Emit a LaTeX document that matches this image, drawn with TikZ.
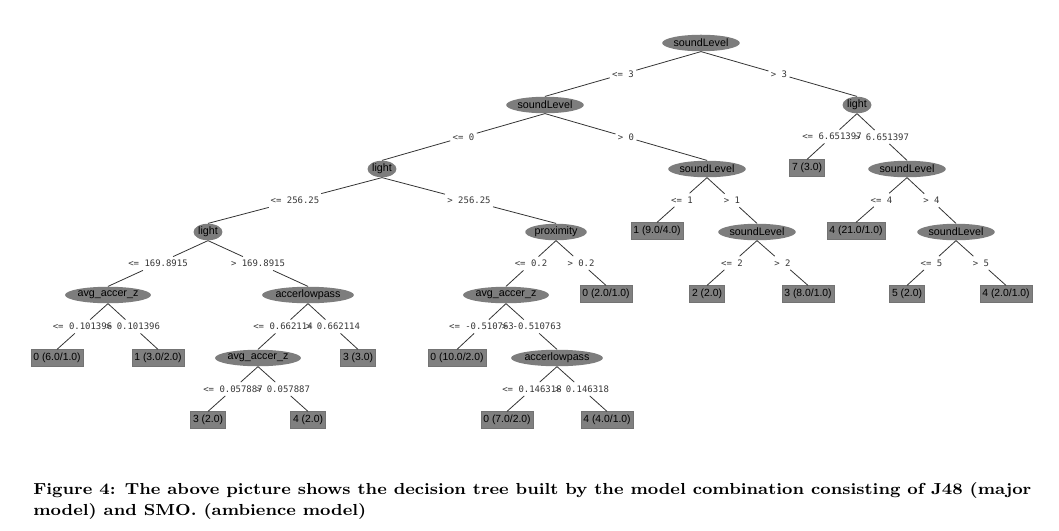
\documentclass[tikz,border=0pt]{standalone}
\usepackage{fontspec}
\usetikzlibrary{shapes.geometric}
\newfontfamily\nodefont{Liberation Sans}
\newfontfamily\labfont{DejaVu Sans Mono}
\newlength\capw
\newcommand\capfont{\fontsize{9.1}{11}\selectfont\bfseries}
\newcommand\capone{Figure 4: The above picture shows the decision tree built by the model combination consisting of J48 (major}
\newcommand\captwo{model) and SMO. (ambience model)}
\AtBeginDocument{\settowidth{\capw}{\capfont\capone}}
\newcommand\tedge[4]{%
  \path (#1.south) -- (#2.north) node[lab, midway] (#3) {#4};
  \draw[edge] (#1.south) -- (#3) -- (#2.north);
}
\definecolor{nodegray}{RGB}{125,125,125}
\definecolor{leafgray}{RGB}{128,128,128}
\tikzset{
  dec/.style={ellipse, fill=nodegray, inner sep=0pt, minimum height=9.4pt, font=\nodefont\fontsize{6.1}{7}\selectfont},
  wsl/.style={minimum width=42pt},
  wl/.style={minimum width=16.5pt},
  wp/.style={minimum width=35pt},
  wa/.style={minimum width=45pt},
  wc/.style={minimum width=50pt},
  leaf/.style={rectangle, fill=leafgray, draw=black!55, line width=0.4pt, inner xsep=1.4pt, inner ysep=0pt, minimum height=9.4pt, font=\nodefont\fontsize{5.9}{7}\selectfont},
  lab/.style={inner xsep=1.2pt, inner ysep=1.8pt, font=\labfont\fontsize{5.1}{6}\selectfont, text=black!78},
  edge/.style={draw=black!80, line width=0.45pt}
}
\begin{document}
\begin{tikzpicture}[x=0.02cm, y=-0.02cm]
\useasboundingbox[fill=white] (0,0) rectangle (1059,531);
% decision nodes and leaves
\node[dec,wsl] (n0) at (701,43) {soundLevel};
\node[dec,wsl] (n1) at (545,105) {soundLevel};
\node[dec,wl] (n2) at (857,105) {light};
\node[dec,wl] (n3) at (382,169) {light};
\node[dec,wsl] (n4) at (707,169) {soundLevel};
\node[leaf] (n5) at (807,168) {7 (3.0)};
\node[dec,wsl] (n6) at (907,169) {soundLevel};
\node[dec,wl] (n7) at (208,232) {light};
\node[dec,wp] (n8) at (556,232) {proximity};
\node[leaf] (n9) at (657,231) {1 (9.0/4.0)};
\node[dec,wsl] (n10) at (757,232) {soundLevel};
\node[leaf] (n11) at (856,231) {4 (21.0/1.0)};
\node[dec,wsl] (n12) at (956,232) {soundLevel};
\node[dec,wa] (n13) at (108,295) {avg\_accer\_z};
\node[dec,wc] (n14) at (308,295) {accerlowpass};
\node[dec,wa] (n15) at (506,295) {avg\_accer\_z};
\node[leaf] (n16) at (606,294) {0 (2.0/1.0)};
\node[leaf] (n17) at (707,294) {2 (2.0)};
\node[leaf] (n18) at (808,294) {3 (8.0/1.0)};
\node[leaf] (n19) at (907,294) {5 (2.0)};
\node[leaf] (n20) at (1006,294) {4 (2.0/1.0)};
\node[leaf] (n21) at (57,358) {0 (6.0/1.0)};
\node[leaf] (n22) at (158,358) {1 (3.0/2.0)};
\node[dec,wa] (n23) at (258,358) {avg\_accer\_z};
\node[leaf] (n24) at (358,358) {3 (3.0)};
\node[leaf] (n25) at (457,358) {0 (10.0/2.0)};
\node[dec,wc] (n26) at (557,358) {accerlowpass};
\node[leaf] (n27) at (208,420) {3 (2.0)};
\node[leaf] (n28) at (308,420) {4 (2.0)};
\node[leaf] (n29) at (507,420) {0 (7.0/2.0)};
\node[leaf] (n30) at (607,420) {4 (4.0/1.0)};
% edges with labels
\tedge{n0}{n1}{l1}{<= 3}
\tedge{n0}{n2}{l2}{> 3}
\tedge{n1}{n3}{l3}{<= 0}
\tedge{n1}{n4}{l4}{> 0}
\tedge{n2}{n5}{l5}{<= 6.651397}
\tedge{n2}{n6}{l6}{> 6.651397}
\tedge{n3}{n7}{l7}{<= 256.25}
\tedge{n3}{n8}{l8}{> 256.25}
\tedge{n4}{n9}{l9}{<= 1}
\tedge{n4}{n10}{l10}{> 1}
\tedge{n6}{n11}{l11}{<= 4}
\tedge{n6}{n12}{l12}{> 4}
\tedge{n7}{n13}{l13}{<= 169.8915}
\tedge{n7}{n14}{l14}{> 169.8915}
\tedge{n8}{n15}{l15}{<= 0.2}
\tedge{n8}{n16}{l16}{> 0.2}
\tedge{n10}{n17}{l17}{<= 2}
\tedge{n10}{n18}{l18}{> 2}
\tedge{n12}{n19}{l19}{<= 5}
\tedge{n12}{n20}{l20}{> 5}
\tedge{n13}{n21}{l21}{<= 0.101396}
\tedge{n13}{n22}{l22}{> 0.101396}
\tedge{n14}{n23}{l23}{<= 0.662114}
\tedge{n14}{n24}{l24}{> 0.662114}
\tedge{n15}{n25}{l25}{<= -0.510763}
\tedge{n15}{n26}{l26}{> -0.510763}
\tedge{n23}{n27}{l27}{<= 0.057887}
\tedge{n23}{n28}{l28}{> 0.057887}
\tedge{n26}{n29}{l29}{<= 0.146318}
\tedge{n26}{n30}{l30}{> 0.146318}
% caption
\pgfmathsetmacro{\capsx}{568/\capw}
\node[anchor=base west, inner sep=0pt] (cap1) at (33,494.5) {\scalebox{\capsx}[1]{\capfont\capone}};
\node[anchor=base west, inner sep=0pt] (cap2) at (33,515) {\scalebox{\capsx}[1]{\capfont\captwo}};
\end{tikzpicture}
\end{document}
